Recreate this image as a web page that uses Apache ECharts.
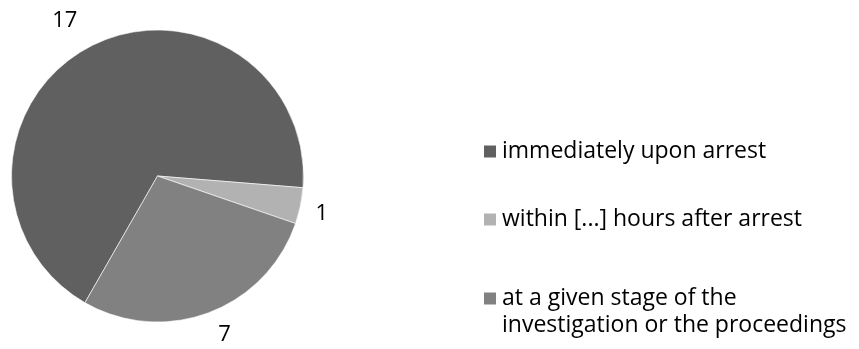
<!DOCTYPE html>
<html>
<head>
<meta charset="utf-8">
<script src="https://cdn.jsdelivr.net/npm/echarts@6/dist/echarts.min.js"></script>
<style>
  html, body { margin: 0; padding: 0; background: #fff; }
  #chart { width: 859px; height: 349px; }
</style>
</head>
<body>
<div id="chart"></div>
<script>
// When the right to information is granted
const categories = [
  'immediately upon arrest',
  'within [...] hours after arrest',
  'at a given stage of the\ninvestigation or the proceedings'
];
const values = [17, 1, 7];

const FONT = '"Open Sans", sans-serif';
const sliceColors = ['#606060', '#b2b2b2', '#818181'];

// per-slice placement of the value labels outside the pie
const labelLineLength = [30, 38, 24];
const labelDistance = [-2, -22, 1];

const chart = echarts.init(document.getElementById('chart'), null, { renderer: 'canvas' });

const pieData = categories.map((name, i) => ({
  name: name,
  value: values[i],
  itemStyle: { color: sliceColors[i] },
  labelLine: { show: false, length: labelLineLength[i], length2: 0 },
  label: { distanceToLabelLine: labelDistance[i] }
}));

const legendText = { fontFamily: FONT, fontSize: 23, color: '#000', lineHeight: 27 };

function legendFor(i, top, extra) {
  return Object.assign({
    data: [categories[i]],
    orient: 'vertical',
    left: 482,
    top: top,
    padding: 0,
    itemWidth: 14,
    itemHeight: 14,
    itemGap: 0,
    icon: 'rect',
    selectedMode: false,
    textStyle: legendText
  }, extra || {});
}

chart.setOption({
  animation: false,
  backgroundColor: '#fff',
  legend: [
    legendFor(0, 138),
    legendFor(1, 206),
    // an empty leading line keeps the swatch level with the first text line
    legendFor(2, 258, { formatter: (name) => '\n' + name })
  ],
  series: [{
    type: 'pie',
    center: [157.5, 176],
    radius: 146,
    startAngle: 240.2,
    clockwise: true,
    avoidLabelOverlap: false,
    itemStyle: { borderColor: '#ffffff', borderWidth: 0.6 },
    label: {
      show: true,
      position: 'outside',
      formatter: '{c}',
      fontFamily: FONT,
      fontSize: 22,
      color: '#000'
    },
    labelLine: { show: false },
    emphasis: { disabled: true },
    data: pieData
  }]
});
</script>
</body>
</html>
